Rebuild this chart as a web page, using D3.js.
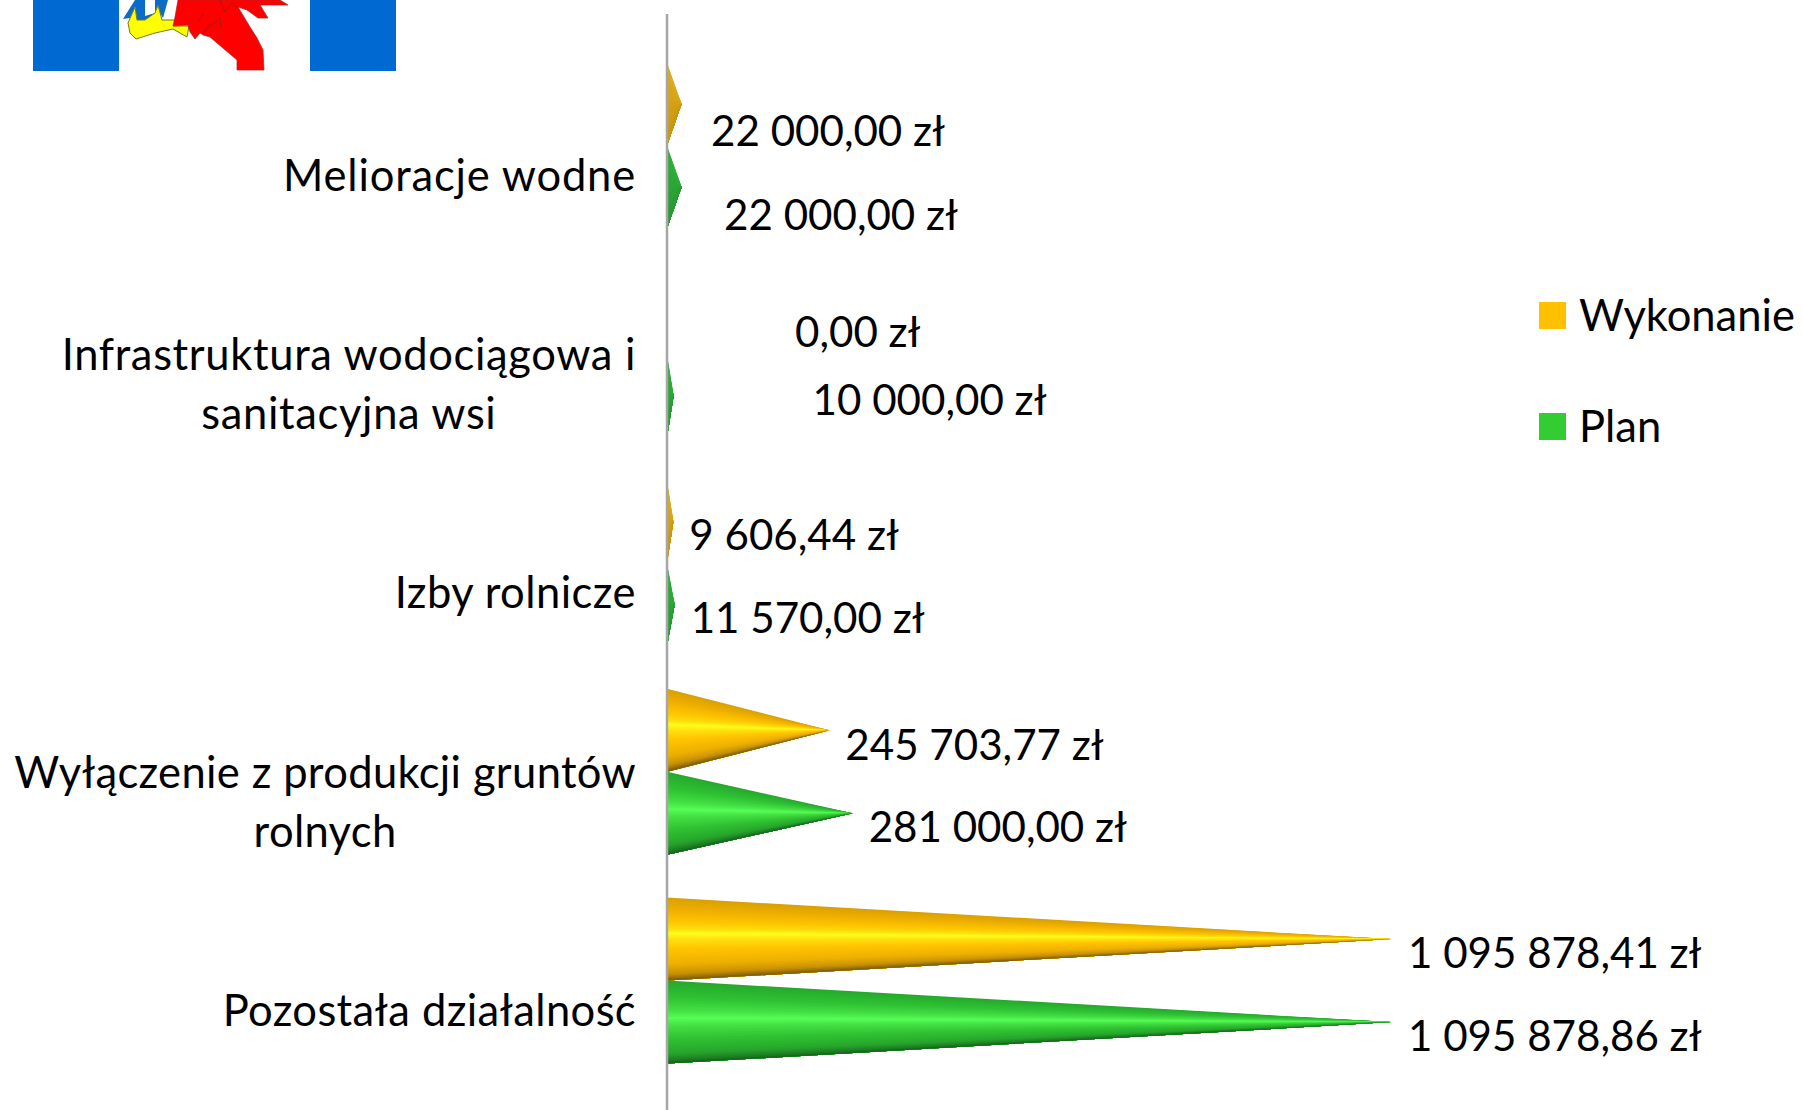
<!DOCTYPE html>
<html>
<head>
<meta charset="utf-8">
<script src="https://d3js.org/d3.v7.min.js"></script>
<style>
  html, body { margin: 0; padding: 0; background: #fff; overflow: hidden; }
  text { font-family: Lato, "Open Sans", sans-serif; fill: #000; }
</style>
</head>
<body>
<script>
// Data
var categories = ["Melioracje wodne", "Infrastruktura wodociągowa i sanitacyjna wsi", "Izby rolnicze", "Wyłączenie z produkcji gruntów rolnych", "Pozostała działalność"];
var categoryLines = [["Melioracje wodne"], ["Infrastruktura wodociągowa i", "sanitacyjna wsi"], ["Izby rolnicze"], ["Wyłączenie z produkcji gruntów", "rolnych"], ["Pozostała działalność"]];
var seriesNames = ["Wykonanie", "Plan"];
var wykonanie = [22000.00, 0.00, 9606.44, 245703.77, 1095878.41];
var plan = [22000.00, 10000.00, 11570.00, 281000.00, 1095878.86];

// Hand-moved data labels of the original, [dx from tip, dy from bar centre]
var nudgeWykonanie = [[29.5, 27.5], [128, 20], [16, 14], [16, 15], [17, 14.5]];
var nudgePlan = [[42.5, 28.5], [139, 5], [16, 13.5], [16, 13.5], [17, 14.5]];
// Lato is not quite Calibri, so each category label gets its own tracking
var categoryTracking = [0.83, 0.65, 0.47, 0.35, 0.38];

var width = 1803, height = 1110;

var shadeGold = d3.scaleLinear()
  .domain([0, .15, .3, .38, .43, .5, .62, .8, .92, 1])
  .range(["#d9a000", "#f0b000", "#ffc800", "#ffe010", "#ffff1a", "#ffe010", "#ffc400", "#eeb000", "#c89200", "#7a5a10"]);
var shadeGreen = d3.scaleLinear()
  .domain([0, .2, .36, .45, .54, .7, .88, .96, 1])
  .range(["#26a82c", "#2fc234", "#45e045", "#55ff55", "#45e045", "#30c232", "#27a52c", "#1d7d24", "#146018"]);
// the very short cones have no visible highlight in the original
var flatGold = d3.scaleLinear().domain([0, 1]).range(["#e0ac1e", "#c8960f"]);
var flatGreen = d3.scaleLinear().domain([0, 1]).range(["#30b03a", "#2a9a35"]);

var shades = {Wykonanie: shadeGold, Plan: shadeGreen};
var flats = {Wykonanie: flatGold, Plan: flatGreen};
var swatches = {Wykonanie: "#ffc000", Plan: "#33cc33"};
var values = {Wykonanie: wykonanie, Plan: plan};
var nudges = {Wykonanie: nudgeWykonanie, Plan: nudgePlan};

var svg = d3.select("body").append("svg")
  .attr("width", width)
  .attr("height", height);

var x = d3.scaleLinear().domain([0, 1095878.86]).range([667, 1391]);
var y0 = d3.scaleBand().domain(categories).range([41, 1085]).paddingInner(0.205).paddingOuter(0.1025);
var y1 = d3.scaleBand().domain(seriesNames).range([0, y0.bandwidth()]);

// Logo, cut off by the top of the slide
var logo = svg.append("g");
logo.append("rect").attr("x", 33).attr("y", 0).attr("width", 86).attr("height", 71).attr("fill", "#0069d2");
logo.append("rect").attr("x", 310).attr("y", 0).attr("width", 86).attr("height", 71).attr("fill", "#0069d2");
logo.append("path")
  .attr("d", "M135,0 L123,19 L130,18 L135,7 L137,20 L145,20 L155,13 L158,5 L160,13 L163,18 L168,0 Z M145,0 L155,0 L155,13 L145,16 Z")
  .attr("fill", "#0a6cc8").attr("fill-rule", "evenodd");
logo.append("path")
  .attr("d", "M135,7 L128,23 L130,33 L136,39 L155,33 L173,29 L187,37 L189,26 L173,26 L177,20 L162,20 L158,5 L155,13 L145,20 L137,20 Z")
  .attr("fill", "#ffff00").attr("stroke", "#77771a").attr("stroke-width", 1);
logo.append("path")
  .attr("d", "M178,0 L175,17 L173,26 L188,25 L190,32 L195,39 L200,33 L203,35 L210,37 L237,60 L237,70 L264,70 L263,50 L257,38 L250,27 L238,7 L247,10 L258,18 L268,18 L260,5 L288,5 L280,0 Z")
  .attr("fill", "#ff0000").attr("stroke", "#b02020").attr("stroke-width", .7);
logo.append("path")
  .attr("d", "M205,10 L198,22 M210,23 L203,33 L220,18 L221,27 M220,0 L225,12 L232,3 L238,8")
  .attr("fill", "none").attr("stroke", "#a01818").attr("stroke-width", .8);

// Cone bars: each cone is built from thin lengthwise slivers that all meet at the tip
var slices = d3.range(0, 48);
var groups = svg.selectAll("g.cat")
  .data(categories)
  .enter().append("g")
  .attr("class", "cat");

seriesNames.forEach(function(name) {
  groups.each(function(cat, i) {
    var v = values[name][i];
    if (v <= 0) return;
    var top = y0(cat) + y1(name);
    var h = y1.bandwidth();
    var tip = x(v);
    var shade = tip - x(0) < 20 ? flats[name] : shades[name];
    d3.select(this).append("g").selectAll("polygon")
      .data(slices)
      .enter().append("polygon")
      .attr("points", function(s) {
        return [[x(0), top + h * s / slices.length], [x(0), top + h], [tip, top + h / 2]].join(" ");
      })
      .attr("fill", function(s) { return shade((s + .5) / slices.length); });
  });
});

// Axis line
svg.append("line")
  .attr("x1", x(0)).attr("x2", x(0))
  .attr("y1", 14).attr("y2", height)
  .attr("stroke", "#a6a6a6").attr("stroke-width", 2.5);

// Value labels
var fmt = d3.formatLocale({decimal: ",", thousands: " ", grouping: [3], currency: ["", " zł"]}).format(",.2f");
seriesNames.forEach(function(name) {
  categories.forEach(function(cat, i) {
    var v = values[name][i];
    svg.append("text")
      .attr("x", x(v) + nudges[name][i][0])
      .attr("y", y0(cat) + y1(name) + y1.bandwidth() / 2 + nudges[name][i][1])
      .attr("dy", "0.35em")
      .attr("font-size", 42.1)
      .text(fmt(v) + " zł");
  });
});

// Category labels
categories.forEach(function(cat, i) {
  var lines = categoryLines[i];
  var mid = y0(cat) + y0.bandwidth() / 2 + 30;
  var g = svg.append("g");
  var texts = g.selectAll("text")
    .data(lines)
    .enter().append("text")
    .attr("y", function(d, k) { return mid + (k - (lines.length - 1) / 2) * 59; })
    .attr("dy", "0.35em")
    .attr("text-anchor", "middle")
    .attr("font-size", 43.5)
    .attr("letter-spacing", categoryTracking[i])
    .text(function(d) { return d; });
  var widest = d3.max(texts.nodes(), function(n) { return n.getComputedTextLength(); });
  texts.attr("x", 636 - widest / 2);
});

// Legend
var legend = svg.selectAll("g.legend")
  .data(seriesNames)
  .enter().append("g")
  .attr("class", "legend")
  .attr("transform", function(d, i) { return "translate(1539," + (302 + i * 111) + ")"; });
legend.append("rect")
  .attr("width", 27).attr("height", 27)
  .attr("fill", function(d) { return swatches[d]; });
legend.append("text")
  .attr("x", 40).attr("y", 13.5)
  .attr("dy", "0.35em")
  .attr("font-size", 43.5)
  .text(function(d) { return d; });
</script>
</body>
</html>
